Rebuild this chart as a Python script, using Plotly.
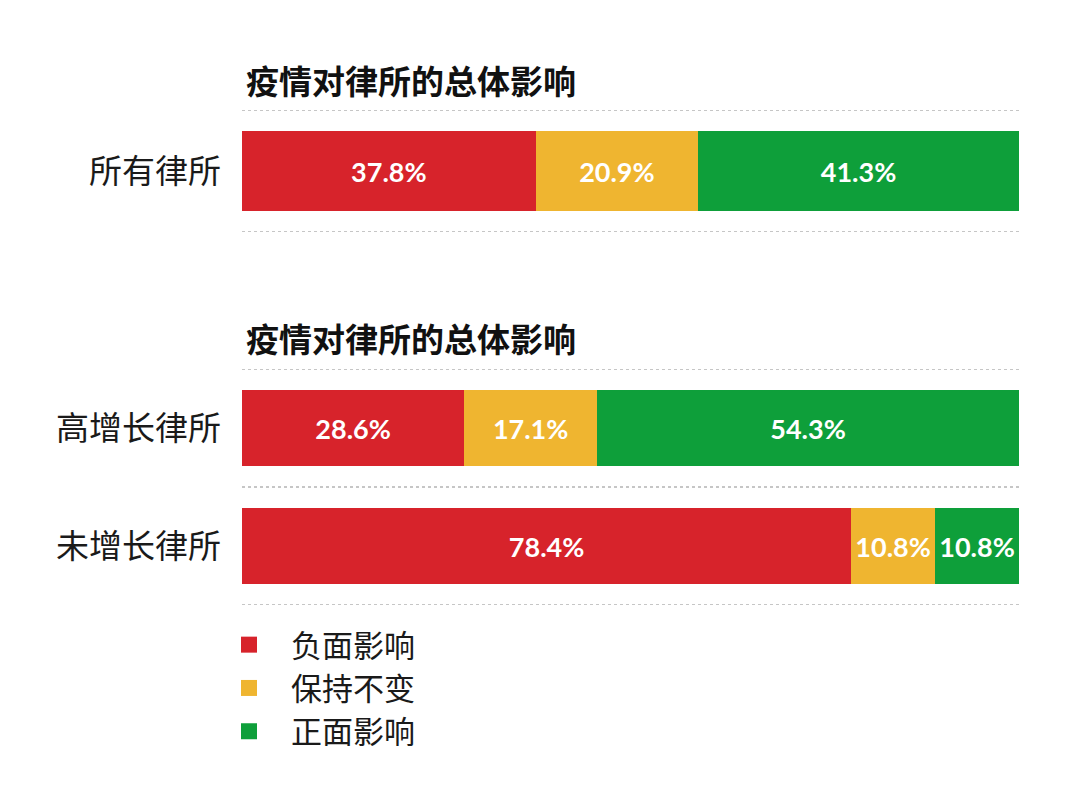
import plotly.graph_objects as go

# data
top_cats = ["所有律所"]
top_neg = [37.8]
top_same = [20.9]
top_pos = [41.3]

bottom_cats = ["高增长律所", "未增长律所"]
bottom_neg = [28.6, 78.4]
bottom_same = [17.1, 10.8]
bottom_pos = [54.3, 10.8]

series_names = ["负面影响", "保持不变", "正面影响"]
series_colors = ["#D7232B", "#EFB530", "#0E9F3A"]
chart_title = "疫情对律所的总体影响"

cjk = "Noto Sans CJK SC"
W, H = 1080, 810
OFF = 8  # page margin offset


def px_x(p):
    return (p - OFF) / W


def px_y(p):
    return 1 - (p - OFF) / H


fig = go.Figure()

top_vals = [top_neg, top_same, top_pos]
bottom_vals = [bottom_neg, bottom_same, bottom_pos]

for name, color, vals in zip(series_names, series_colors, top_vals):
    fig.add_trace(go.Bar(
        y=top_cats, x=vals, orientation="h", name=name,
        marker=dict(color=color, line=dict(width=0)),
        width=0.65, showlegend=False,
        texttemplate="%{x:.1f}%", textposition="inside",
        insidetextanchor="middle", textangle=0,
        textfont=dict(family="Lato", size=27, color="white", weight="bold"),
        xaxis="x", yaxis="y", hoverinfo="skip"))

for name, color, vals in zip(series_names, series_colors, bottom_vals):
    fig.add_trace(go.Bar(
        y=bottom_cats, x=vals, orientation="h", name=name,
        marker=dict(color=color, line=dict(width=0)),
        width=0.65, showlegend=False,
        texttemplate="%{x:.1f}%", textposition="inside",
        insidetextanchor="middle", textangle=0,
        textfont=dict(family="Lato", size=27, color="white", weight="bold"),
        xaxis="x2", yaxis="y2", hoverinfo="skip"))

# legend entries with bigger squares
for name, color in zip(series_names, series_colors):
    fig.add_trace(go.Scatter(
        x=[None], y=[None], mode="markers", name=name,
        marker=dict(symbol="square", size=18, color=color),
        xaxis="x2", yaxis="y2", showlegend=True))

dom_x = [px_x(242), px_x(1019)]

fig.update_layout(
    width=W, height=H,
    margin=dict(l=0, r=0, t=0, b=0),
    paper_bgcolor="white", plot_bgcolor="white",
    barmode="stack",
    font=dict(family=cjk, color="#1a1a1a"),
    xaxis=dict(domain=dom_x, range=[0, 100], showgrid=False, zeroline=False,
               showticklabels=False, fixedrange=True),
    yaxis=dict(domain=[px_y(232), px_y(110)], range=[-0.5, 0.5],
               showgrid=False, zeroline=False, ticks="",
               ticklabelstandoff=20,
               tickfont=dict(family=cjk, size=33, color="#1a1a1a")),
    xaxis2=dict(domain=dom_x, range=[0, 100], showgrid=False, zeroline=False,
                showticklabels=False, fixedrange=True, anchor="y2"),
    yaxis2=dict(domain=[px_y(605), px_y(369)], range=[1.5, -0.5],
                showgrid=False, zeroline=False, ticks="",
                ticklabelstandoff=20, anchor="x2",
                tickfont=dict(family=cjk, size=33, color="#1a1a1a")),
    legend=dict(x=px_x(207), y=px_y(618), xanchor="left", yanchor="top",
                traceorder="normal",
                font=dict(family=cjk, size=31, color="#1a1a1a"),
                itemwidth=74, tracegroupgap=0, bgcolor="rgba(0,0,0,0)"),
)

# dotted separators at category boundaries
dot = dict(color="#b4b4b4", width=1.3, dash="dot")
for yb in [-0.5, 0.5]:
    fig.add_shape(type="line", xref="x", yref="y", x0=0, x1=100, y0=yb, y1=yb, line=dot)
for yb in [-0.5, 0.5, 1.5]:
    fig.add_shape(type="line", xref="x2", yref="y2", x0=0, x1=100, y0=yb, y1=yb, line=dot)

# section titles
for ty in [80, 338]:
    fig.add_annotation(text=chart_title, xref="paper", yref="paper",
                       x=px_x(244), y=px_y(ty), xanchor="left", yanchor="middle",
                       showarrow=False,
                       font=dict(family=cjk, size=33, color="#111111", weight="bold"))

fig.write_html("out.html")
